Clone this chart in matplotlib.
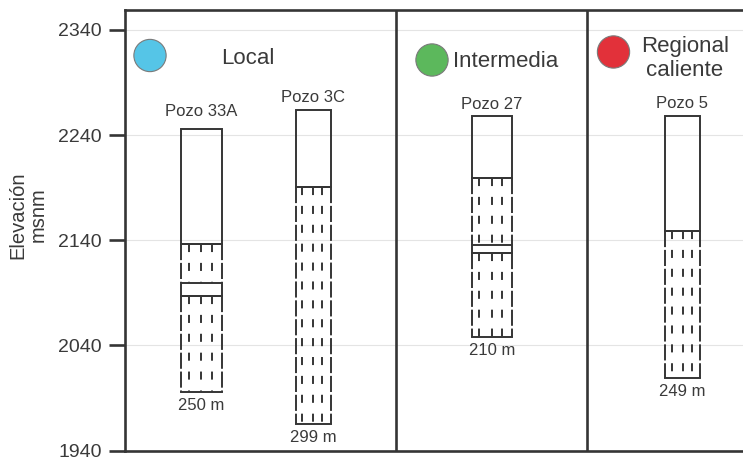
import matplotlib.pyplot as plt
from matplotlib.transforms import blended_transform_factory

plt.rcParams['font.family'] = ['Liberation Sans', 'DejaVu Sans']
plt.rcParams['lines.scale_dashes'] = False

# flow systems
groups = ["Local", "Intermedia", "Regional\ncaliente"]
group_colors = ["#55c5e7", "#5cb85c", "#e2313a"]

# wells: top elevation (msnm), total depth (m), base of blank casing,
# blank pipe inside the screened interval (None = no blank)
well_names = ["Pozo 33A", "Pozo 3C", "Pozo 27", "Pozo 5"]
top_elev = [2246, 2264, 2258, 2258]
depth_m = [250, 299, 210, 249]
casing_bottom = [2136, 2191, 2199, 2149]
blank_top = [2099, None, 2135, None]
blank_bottom = [2087, None, 2128, None]

yticks = [1940, 2040, 2140, 2240, 2340]

# layout (x in pixel-like units across the panel)
well_x = [201.5, 313.3, 491.7, 682.5]
well_w = [41, 35, 40, 35]
label_gap = [9.2, 5.8, 5.4, 6.1]   # points above well top
sep_x = [395.5, 587]
circle_x = [150, 432, 613.5]
circle_y = [0.8967, 0.8865, 0.9047]
inner_frac = [0.19, 0.5, 0.76]

ink = "#353535"
txt = "#3a3a3a"

fig = plt.figure(figsize=(7.43, 4.61), dpi=100)
ax = fig.add_axes([125 / 743, 10.5 / 461, 618 / 743, 440.5 / 461])
ax.set_xlim(125, 743)
ax.set_ylim(1940, 2359)

for s in ['left', 'top', 'bottom']:
    ax.spines[s].set_linewidth(1.9)
    ax.spines[s].set_color(ink)
ax.spines['right'].set_visible(False)

ax.set_yticks(yticks)
ax.set_xticks([])
ax.tick_params(axis='y', length=11.5, width=1.9, color=ink, pad=5,
               labelsize=14, labelcolor=txt)
ax.yaxis.grid(True, color='#e4e4e4', lw=0.8)
ax.set_axisbelow(True)

for x in sep_x:
    ax.axvline(x, color=ink, lw=1.9)

trans = blended_transform_factory(ax.transData, ax.transAxes)

# group markers and names
ax.scatter(circle_x, circle_y, s=540, c=group_colors, edgecolors='#7a7a7a',
           linewidths=0.8, transform=trans, zorder=3, clip_on=False)
ax.text(247.5, 0.8774, groups[0], fontsize=16, color=txt, ha='center',
        va='baseline', transform=trans)
ax.text(506, 0.8706, groups[1], fontsize=16, color=txt, ha='center',
        va='baseline', transform=trans)
reg1, reg2 = groups[2].split("\n")
ax.text(685, 0.9053, reg1, fontsize=16, color=txt, ha='center',
        va='baseline', transform=trans)
ax.text(685, 0.8509, reg2, fontsize=16, color=txt, ha='center',
        va='baseline', transform=trans)

side_dash = (0, (11.6, 2.0))
inner_dash = (0, (5.8, 7.8))
lw = 1.4


def screen(left, right, seg_top, seg_bot):
    # dashed walls and slotted inner lines, pattern restarts at each top
    for xx in (left, right):
        ax.plot([xx, xx], [seg_top, seg_bot], color=ink, lw=lw,
                linestyle=side_dash, solid_capstyle='butt')
    for f in inner_frac:
        xx = left + f * (right - left)
        ax.plot([xx, xx], [seg_top, seg_bot], color=ink, lw=lw,
                linestyle=inner_dash, dash_capstyle='butt')
    ax.plot([left, right], [seg_top, seg_top], color=ink, lw=lw)


for i, name in enumerate(well_names):
    left = well_x[i] - well_w[i] / 2
    right = well_x[i] + well_w[i] / 2
    top = top_elev[i]
    bottom = top - depth_m[i]

    # blank casing
    ax.plot([left, right, right, left, left],
            [casing_bottom[i], casing_bottom[i], top, top, casing_bottom[i]],
            color=ink, lw=lw, solid_joinstyle='miter')

    if blank_top[i] is not None:
        screen(left, right, casing_bottom[i], blank_top[i])
        ax.plot([left, right, right, left, left],
                [blank_bottom[i], blank_bottom[i], blank_top[i], blank_top[i],
                 blank_bottom[i]], color=ink, lw=lw)
        screen(left, right, blank_bottom[i], bottom)
    else:
        screen(left, right, casing_bottom[i], bottom)
    ax.plot([left, right], [bottom, bottom], color=ink, lw=lw)

    ax.annotate(name, (well_x[i], top), xytext=(0, label_gap[i]),
                textcoords='offset points', ha='center', va='baseline',
                fontsize=12, color=txt)
    ax.annotate(f"{depth_m[i]} m", (well_x[i], bottom), xytext=(0, -13),
                textcoords='offset points', ha='center', va='baseline',
                fontsize=12, color=txt)

fig.text(28 / 743, 1 - 215 / 461, "Elevación\nmsnm", rotation=90,
         fontsize=14.5, color=txt, ha='center', va='center',
         multialignment='center', linespacing=1.05)

fig.savefig("out.png", dpi=100)
